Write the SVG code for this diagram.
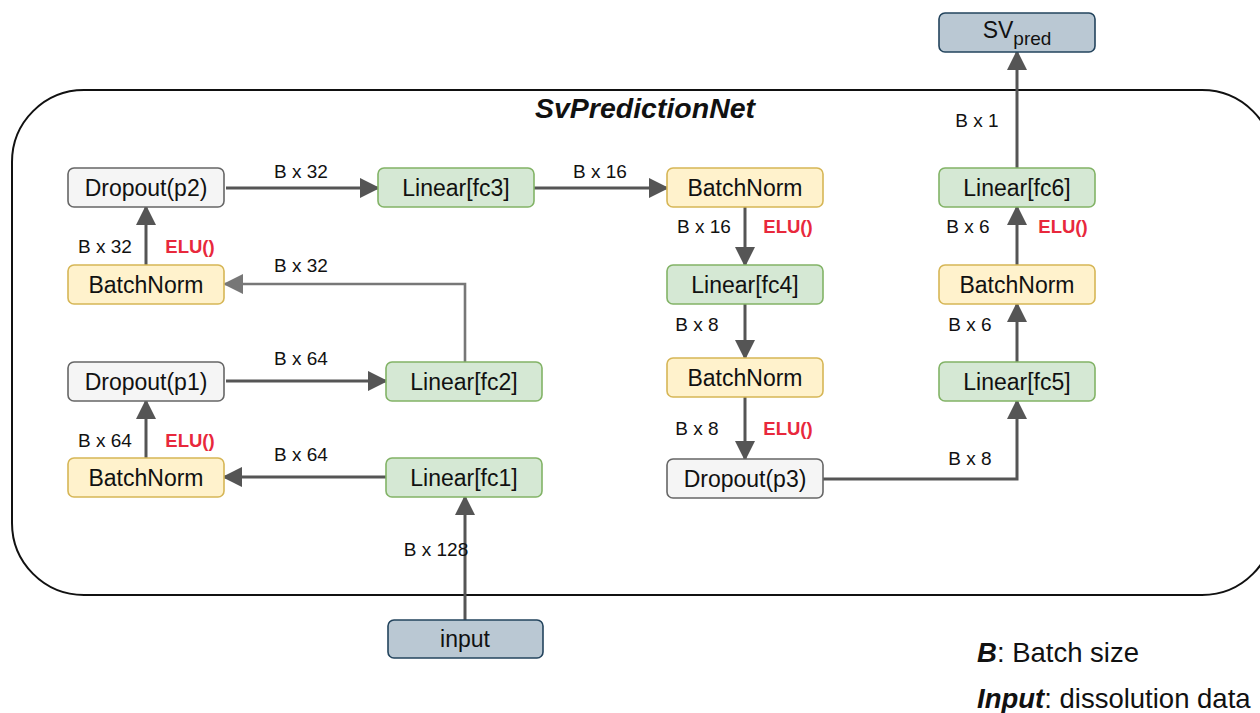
<svg xmlns="http://www.w3.org/2000/svg" width="1260" height="713" viewBox="0 0 1260 713">
  <defs>
    <marker id="arrow" viewBox="0 0 10 10" refX="9" refY="5" markerWidth="6.8" markerHeight="6.8" orient="auto" markerUnits="strokeWidth">
      <path d="M0,0 L10,5 L0,10 Z" fill="#555555"/>
    </marker>
    <marker id="arrowLight" viewBox="0 0 10 10" refX="9" refY="5" markerWidth="7.8" markerHeight="7.8" orient="auto" markerUnits="strokeWidth">
      <path d="M0,0 L10,5 L0,10 Z" fill="#777777"/>
    </marker>
    <style>
      .box { stroke-width: 1.6; }
      .dropout { fill: #f5f5f5; stroke: #666666; }
      .bn { fill: #fff2cc; stroke: #d6b656; }
      .lin { fill: #d5e8d4; stroke: #82b366; }
      .io { fill: #bac8d3; stroke: #23445d; }
      .lbl { font-family: "Liberation Sans", Arial, sans-serif; font-size: 23px; fill: #111111; text-anchor: middle; dominant-baseline: central; }
      .edge { fill: none; stroke: #555555; stroke-width: 3; marker-end: url(#arrow); }
      .edgeLight { fill: none; stroke: #777777; stroke-width: 2.6; marker-end: url(#arrowLight); }
      .dim { font-family: "Liberation Sans", Arial, sans-serif; font-size: 19px; fill: #111111; text-anchor: middle; dominant-baseline: central; }
      .elu { font-family: "Liberation Sans", Arial, sans-serif; font-size: 18.5px; font-weight: bold; fill: #e8283c; text-anchor: middle; dominant-baseline: central; }
      .legend { font-family: "Liberation Sans", Arial, sans-serif; font-size: 27.5px; fill: #111111; }
    </style>
  </defs>

  <rect width="1260" height="713" fill="#ffffff"/>

  <!-- module boundary -->
  <rect id="container" x="12" y="90" width="1262" height="505" rx="72" ry="72" fill="none" stroke="#111111" stroke-width="2"/>
  <text x="645" y="108" font-family="Liberation Sans, Arial, sans-serif" font-size="28.5" font-weight="bold" font-style="italic" text-anchor="middle" dominant-baseline="central" fill="#111111">SvPredictionNet</text>

  <!-- connectors -->
  <g id="connectors">
    <path class="edge" d="M465,620 L465,497"/>
    <path class="edge" d="M386,477 L224,477"/>
    <path class="edge" d="M146,458 L146,401"/>
    <path class="edge" d="M226,381 L386,381"/>
    <path class="edgeLight" d="M465,362 L465,284 L225,284"/>
    <path class="edge" d="M146,265 L146,207"/>
    <path class="edge" d="M226,188 L378,188"/>
    <path class="edge" d="M534,188 L667,188"/>
    <path class="edge" d="M745,207 L745,265"/>
    <path class="edge" d="M745,304 L745,358"/>
    <path class="edge" d="M745,397 L745,459"/>
    <path class="edge" d="M823,479 L1017,479 L1017,401"/>
    <path class="edge" d="M1017,362 L1017,304"/>
    <path class="edge" d="M1017,265 L1017,207"/>
    <path class="edge" d="M1017,168 L1017,52"/>

    <text class="dim" x="436" y="549">B x 128</text>
    <text class="dim" x="301" y="454">B x 64</text>
    <text class="dim" x="105" y="440">B x 64</text>
    <text class="elu" x="190" y="440">ELU()</text>
    <text class="dim" x="301" y="358">B x 64</text>
    <text class="dim" x="301" y="265">B x 32</text>
    <text class="dim" x="105" y="246">B x 32</text>
    <text class="elu" x="190" y="246">ELU()</text>
    <text class="dim" x="301" y="171">B x 32</text>
    <text class="dim" x="600" y="171">B x 16</text>
    <text class="dim" x="704" y="226">B x 16</text>
    <text class="elu" x="788" y="226">ELU()</text>
    <text class="dim" x="697" y="324">B x 8</text>
    <text class="dim" x="697" y="428">B x 8</text>
    <text class="elu" x="788" y="428">ELU()</text>
    <text class="dim" x="970" y="458">B x 8</text>
    <text class="dim" x="970" y="324">B x 6</text>
    <text class="dim" x="968" y="226">B x 6</text>
    <text class="elu" x="1063" y="226">ELU()</text>
    <text class="dim" x="977" y="120">B x 1</text>
  </g>

  <!-- nodes -->
  <g id="dropout-p2"><rect class="box dropout" x="68" y="168" width="156" height="39" rx="6"/><text class="lbl" x="146" y="188">Dropout(p2)</text></g>
  <g id="batchnorm-2"><rect class="box bn" x="68" y="265" width="156" height="39" rx="6"/><text class="lbl" x="146" y="285">BatchNorm</text></g>
  <g id="dropout-p1"><rect class="box dropout" x="68" y="362" width="156" height="39" rx="6"/><text class="lbl" x="146" y="382">Dropout(p1)</text></g>
  <g id="batchnorm-1"><rect class="box bn" x="68" y="458" width="156" height="39" rx="6"/><text class="lbl" x="146" y="478">BatchNorm</text></g>

  <g id="linear-fc3"><rect class="box lin" x="378" y="168" width="156" height="39" rx="6"/><text class="lbl" x="456" y="188">Linear[fc3]</text></g>
  <g id="linear-fc2"><rect class="box lin" x="386" y="362" width="156" height="39" rx="6"/><text class="lbl" x="464" y="382">Linear[fc2]</text></g>
  <g id="linear-fc1"><rect class="box lin" x="386" y="458" width="156" height="39" rx="6"/><text class="lbl" x="464" y="478">Linear[fc1]</text></g>
  <g id="input"><rect class="box io" x="388" y="620" width="155" height="38" rx="6"/><text class="lbl" x="465" y="639">input</text></g>

  <g id="batchnorm-3"><rect class="box bn" x="667" y="168" width="156" height="39" rx="6"/><text class="lbl" x="745" y="188">BatchNorm</text></g>
  <g id="linear-fc4"><rect class="box lin" x="667" y="265" width="156" height="39" rx="6"/><text class="lbl" x="745" y="285">Linear[fc4]</text></g>
  <g id="batchnorm-4"><rect class="box bn" x="667" y="358" width="156" height="39" rx="6"/><text class="lbl" x="745" y="378">BatchNorm</text></g>
  <g id="dropout-p3"><rect class="box dropout" x="667" y="459" width="156" height="39" rx="6"/><text class="lbl" x="745" y="479">Dropout(p3)</text></g>

  <g id="linear-fc5"><rect class="box lin" x="939" y="362" width="156" height="39" rx="6"/><text class="lbl" x="1017" y="382">Linear[fc5]</text></g>
  <g id="batchnorm-5"><rect class="box bn" x="939" y="265" width="156" height="39" rx="6"/><text class="lbl" x="1017" y="285">BatchNorm</text></g>
  <g id="linear-fc6"><rect class="box lin" x="939" y="168" width="156" height="39" rx="6"/><text class="lbl" x="1017" y="188">Linear[fc6]</text></g>
  <g id="sv-pred"><rect class="box io" x="939" y="13" width="156" height="39" rx="6"/><text class="lbl" x="1017" y="30">SV<tspan font-size="19" dy="8">pred</tspan></text></g>

  <!-- legend -->
  <g id="legend">
    <text class="legend" x="977" y="662"><tspan font-weight="bold" font-style="italic">B</tspan>: Batch size</text>
    <text class="legend" x="977" y="708"><tspan font-weight="bold" font-style="italic">Input</tspan>: dissolution data</text>
  </g>
</svg>
